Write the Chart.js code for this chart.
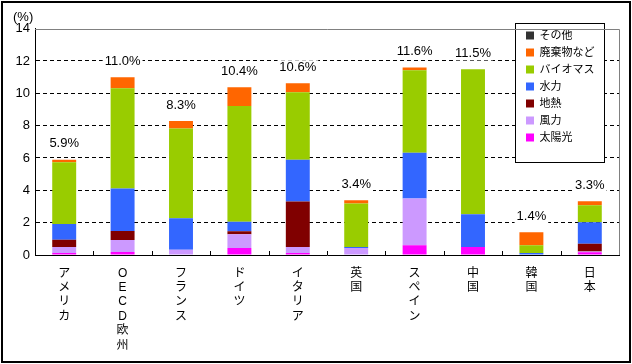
<!DOCTYPE html>
<html>
<head>
<meta charset="utf-8">
<script src="https://cdn.jsdelivr.net/npm/chart.js@4.4.1/dist/chart.umd.min.js"></script>
<style>
  html, body { margin: 0; padding: 0; background: #fff; }
  #wrap { width: 632px; height: 364px; }
</style>
</head>
<body>
<div id="wrap"><canvas id="chart" width="632" height="364"></canvas></div>
<script>
// categories (stacked vertically, one char per line)
const countries = ['アメリカ', 'OECD欧州', 'フランス', 'ドイツ', 'イタリア', '英国', 'スペイン', '中国', '韓国', '日本'];
const totalLabels = ['5.9%', '11.0%', '8.3%', '10.4%', '10.6%', '3.4%', '11.6%', '11.5%', '1.4%', '3.3%'];

// series values (%), bottom of stack first
const solar   = [0.12, 0.18, 0.00, 0.43, 0.12, 0.00, 0.61, 0.49, 0.00, 0.17];
const wind    = [0.37, 0.74, 0.33, 0.86, 0.37, 0.43, 2.89, 0.00, 0.00, 0.04];
const geo     = [0.45, 0.57, 0.00, 0.18, 2.82, 0.00, 0.00, 0.00, 0.00, 0.49];
const hydro   = [0.98, 2.62, 1.94, 0.58, 2.58, 0.06, 2.82, 2.03, 0.12, 1.33];
const biomass = [3.81, 6.20, 5.55, 7.16, 4.18, 2.70, 5.10, 8.96, 0.49, 1.04];
const waste   = [0.16, 0.68, 0.47, 1.16, 0.55, 0.19, 0.18, 0.00, 0.80, 0.25];
const other   = [0, 0, 0, 0, 0, 0, 0, 0, 0, 0];

const yTicks = [0, 2, 4, 6, 8, 10, 12, 14];

const FONT = '"Liberation Sans", "Noto Sans CJK JP", sans-serif';

const series = [
  { label: '太陽光',     data: solar,   color: '#FF00FF' },
  { label: '風力',       data: wind,    color: '#CC99FF' },
  { label: '地熱',       data: geo,     color: '#800000' },
  { label: '水力',       data: hydro,   color: '#3366FF' },
  { label: 'バイオマス', data: biomass, color: '#99CC00' },
  { label: '廃棄物など', data: waste,   color: '#FF6600' },
  { label: 'その他',     data: other,   color: '#333333' }
];

// white page + outer frame
const frame = {
  id: 'frame',
  beforeDraw(chart) {
    const ctx = chart.ctx;
    ctx.save();
    ctx.fillStyle = '#fff';
    ctx.fillRect(0, 0, chart.width, chart.height);
    ctx.strokeStyle = '#000';
    ctx.lineWidth = 2;
    ctx.strokeRect(2, 2, chart.width - 4, chart.height - 4);
    ctx.restore();
  },
  afterDraw(chart) {
    const {ctx, chartArea: a, scales: {x}} = chart;
    ctx.save();
    // grey top / right edges of plot area
    ctx.strokeStyle = '#808080';
    ctx.lineWidth = 1;
    ctx.beginPath();
    ctx.moveTo(a.left, Math.round(a.top) + 0.5);
    ctx.lineTo(Math.round(a.right) + 0.5, Math.round(a.top) + 0.5);
    ctx.lineTo(Math.round(a.right) + 0.5, a.bottom);
    ctx.stroke();
    // small inward ticks between categories
    ctx.strokeStyle = '#000';
    ctx.beginPath();
    for (let i = 1; i < countries.length; i++) {
      const px = Math.round((x.getPixelForTick(i - 1) + x.getPixelForTick(i)) / 2) + 0.5;
      ctx.moveTo(px, a.bottom);
      ctx.lineTo(px, a.bottom - 4);
    }
    ctx.stroke();
    ctx.restore();
  }
};

// legend placed inside the plot, with white box + border
const legendBox = {
  id: 'legendBox',
  afterLayout(chart) {
    const lg = chart.legend;
    lg.left = 520; lg.top = 24; lg.right = 612; lg.bottom = 166;
    lg.width = lg.right - lg.left; lg.height = lg.bottom - lg.top;
    if (!lg._boxed) {
      const base = lg.draw.bind(lg);
      lg.draw = function (area) {
        const ctx = chart.ctx;
        ctx.save();
        ctx.fillStyle = '#fff';
        ctx.fillRect(515, 23, 89, 139);
        ctx.strokeStyle = '#000';
        ctx.lineWidth = 1;
        ctx.strokeRect(515.5, 23.5, 89, 139);
        ctx.restore();
        base(area);
      };
      lg._boxed = true;
    }
  }
};

// total labels above each bar
const totals = {
  id: 'totals',
  afterDatasetsDraw(chart) {
    const {ctx, scales: {x, y}} = chart;
    ctx.save();
    ctx.font = '13px ' + FONT;
    ctx.textAlign = 'center';
    ctx.textBaseline = 'middle';
    countries.forEach((c, i) => {
      const sum = series.reduce((s, d) => s + d.data[i], 0);
      const px = x.getPixelForValue(i);
      const py = y.getPixelForValue(sum) - 16;
      const w = ctx.measureText(totalLabels[i]).width + 4;
      ctx.fillStyle = '#fff';
      ctx.fillRect(px - w / 2, py - 7, w, 14);
      ctx.fillStyle = '#000';
      ctx.fillText(totalLabels[i], px, py);
    });
    ctx.restore();
  }
};

new Chart(document.getElementById('chart'), {
  type: 'bar',
  data: {
    labels: countries.map(c => Array.from(c)),
    datasets: series.map(s => ({
      label: s.label,
      data: s.data,
      backgroundColor: s.color,
      borderWidth: 0,
      categoryPercentage: 1,
      barPercentage: 0.41
    }))
  },
  options: {
    responsive: false,
    animation: false,
    layout: { padding: { left: 13, right: 13, top: 0, bottom: 0 } },
    plugins: {
      tooltip: { enabled: false },
      title: {
        display: true,
        text: '(%)',
        align: 'start',
        color: '#000',
        font: { family: FONT, size: 13, weight: 'normal' },
        padding: { top: 10, bottom: 3 }
      },
      legend: {
        position: 'chartArea',
        align: 'start',
        reverse: true,
        labels: {
          boxWidth: 8,
          boxHeight: 8,
          padding: 6,
          color: '#000',
          font: { family: FONT, size: 11 }
        }
      }
    },
    scales: {
      x: {
        stacked: true,
        grid: { display: false },
        border: { color: '#000', width: 1 },
        ticks: {
          color: '#000',
          padding: 3,
          maxRotation: 0,
          autoSkip: false,
          font: { family: FONT, size: 12, lineHeight: 1.2 }
        },
        afterFit(s) { s.height = 109; }
      },
      y: {
        stacked: true,
        min: 0,
        max: 14,
        afterBuildTicks(s) { s.ticks = yTicks.map(v => ({ value: v })); },
        grid: {
          drawTicks: false,
          color: ctx => (ctx.tick && (ctx.tick.value === 0 || ctx.tick.value === 14)) ? 'rgba(0,0,0,0)' : '#000'
        },
        border: { color: '#000', width: 1, dash: [4, 3] },
        ticks: {
          color: '#000',
          padding: 5,
          font: { family: FONT, size: 13 }
        },
        afterFit(s) { s.width = 22; }
      }
    }
  },
  plugins: [frame, legendBox, totals]
});
</script>
</body>
</html>
